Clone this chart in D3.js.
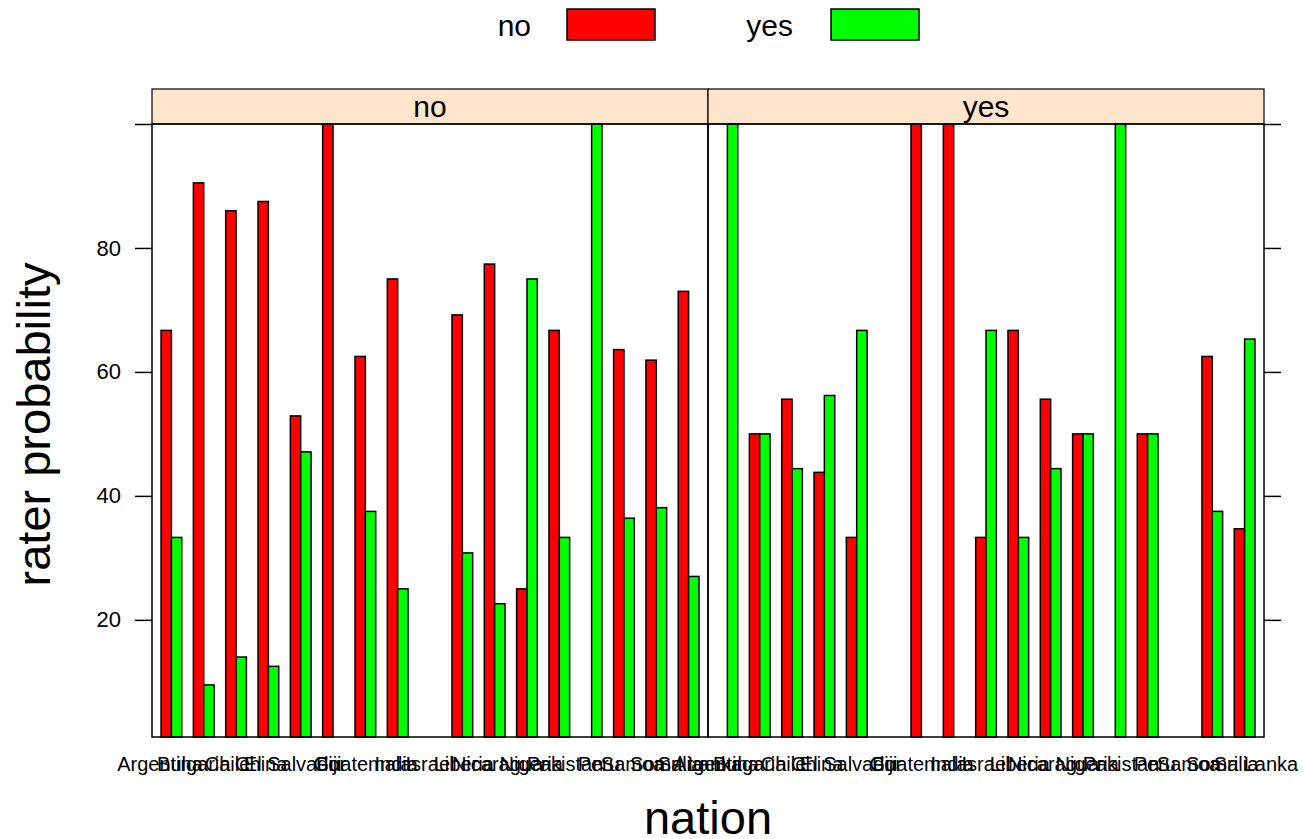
<!DOCTYPE html>
<html>
<head>
<meta charset="utf-8">
<script src="https://cdn.jsdelivr.net/npm/d3@7"></script>
<style>
  body { margin: 0; background: #fff; }
  svg { font-family: "Liberation Sans", Arial, Helvetica, sans-serif; }
</style>
</head>
<body>
<svg id="chart" width="1303" height="839"></svg>
<script>
// categories
const nations = ['Argentina', 'Bulgaria', 'Chile', 'China', 'El Salvador', 'Fiji', 'Guatemala', 'India',
    'Israel', 'Liberia', 'Nicaragua', 'Nigeria', 'Pakistan', 'Peru', 'Samoa', 'Somalia', 'Sri Lanka'];
const panelNames = ['no', 'yes'];
const raterGroups = ['no', 'yes'];

// rater probability (%) per nation, panel "no"
const panelNoRaterNo  = [66.7, 90.5, 86.0, 87.5, 52.9, 100, 62.5, 75.0, null, 69.2, 77.4, 25.0, 66.7, 0, 63.6, 61.9, 73.0];
const panelNoRaterYes = [33.3, 9.5, 14.0, 12.5, 47.1, 0, 37.5, 25.0, null, 30.8, 22.6, 75.0, 33.3, 100, 36.4, 38.1, 27.0];
// panel "yes"
const panelYesRaterNo  = [0, 50.0, 55.6, 43.8, 33.3, null, 100, 100, 33.3, 66.7, 55.6, 50.0, 0, 50.0, null, 62.5, 34.7];
const panelYesRaterYes = [100, 50.0, 44.4, 56.2, 66.7, null, 0, 0, 66.7, 33.3, 44.4, 50.0, 100, 50.0, null, 37.5, 65.3];

const yTicks = [20, 40, 60, 80, 100];
const yLimits = [1.1, 100];
const colors = ['#ff0000', '#00ff00'];

const panelData = [
    [panelNoRaterNo, panelNoRaterYes],
    [panelYesRaterNo, panelYesRaterYes],
];

const svg = d3.select('#chart');
const margin = { left: 152, top: 124 };
const panelW = 556;
const panelH = 613;
const stripH = 35;

const x = d3.scaleLinear().domain([-0.6, nations.length - 0.4]).range([0, panelW]);
const step = x(1) - x(0);
const barW = step * 0.32;
const xLab = d3.scalePoint().domain(nations).range([8, panelW - 8]);
const y = d3.scaleLinear().domain(yLimits).range([panelH, 0]);

// legend
const legend = svg.append('g').attr('class', 'legend');
const legendItems = [{ tx: 531, rx: 567 }, { tx: 793, rx: 831 }];
legendItems.forEach((d, i) => {
    legend.append('text')
        .attr('x', d.tx).attr('y', 36)
        .attr('text-anchor', 'end')
        .attr('font-size', 30)
        .text(raterGroups[i]);
    legend.append('rect')
        .attr('x', d.rx).attr('y', 9)
        .attr('width', 88).attr('height', 31)
        .attr('fill', colors[i])
        .attr('stroke', '#000').attr('stroke-width', 1.5);
});

panelNames.forEach((name, p) => {
    const g = svg.append('g')
        .attr('class', 'panel')
        .attr('transform', `translate(${margin.left + p * panelW}, ${margin.top})`);

    // strip
    g.append('rect')
        .attr('x', 0).attr('y', -stripH)
        .attr('width', panelW).attr('height', stripH)
        .attr('fill', '#ffe5cc')
        .attr('stroke', '#000').attr('stroke-width', 1.2);
    g.append('text')
        .attr('x', panelW / 2).attr('y', -7)
        .attr('text-anchor', 'middle')
        .attr('font-size', 30)
        .text(name);

    // bars
    const bars = [];
    nations.forEach((n, i) => {
        panelData[p].forEach((series, s) => {
            const v = series[i];
            if (v == null || v <= yLimits[0]) return;
            bars.push({ i, s, v });
        });
    });
    g.append('g').selectAll('rect')
        .data(bars)
        .enter()
        .append('rect')
        .attr('x', (d) => x(d.i) - barW + d.s * barW)
        .attr('width', barW)
        .attr('y', (d) => y(d.v))
        .attr('height', (d) => panelH - y(d.v))
        .attr('fill', (d) => colors[d.s])
        .attr('stroke', '#000')
        .attr('stroke-width', 1.5);

    // border
    g.append('rect')
        .attr('width', panelW).attr('height', panelH)
        .attr('fill', 'none')
        .attr('stroke', '#000').attr('stroke-width', 1.5);

    // x labels
    g.append('g').selectAll('text')
        .data(nations)
        .enter()
        .append('text')
        .attr('x', (d) => xLab(d))
        .attr('y', panelH + 34)
        .attr('text-anchor', 'middle')
        .attr('font-size', 20)
        .text((d) => d);
});

// y axes
const yAxisL = d3.axisLeft(y).tickValues(yTicks).tickSize(17).tickPadding(14)
    .tickFormat((d) => (d === 100 ? '' : d));
const yAxisR = d3.axisRight(y).tickValues(yTicks).tickSize(17).tickFormat('');

const axL = svg.append('g')
    .attr('transform', `translate(${margin.left}, ${margin.top})`)
    .call(yAxisL);
const axR = svg.append('g')
    .attr('transform', `translate(${margin.left + 2 * panelW}, ${margin.top})`)
    .call(yAxisR);
[axL, axR].forEach((ax) => {
    ax.select('.domain').remove();
    ax.selectAll('line').attr('stroke-width', 1.5);
    ax.selectAll('text').attr('font-size', 22).attr('font-family', '"Liberation Sans", Arial, sans-serif');
});

// axis titles
svg.append('text')
    .attr('x', margin.left + panelW)
    .attr('y', 834)
    .attr('text-anchor', 'middle')
    .attr('font-size', 47)
    .text('nation');
svg.append('text')
    .attr('transform', `translate(50, ${margin.top + panelH / 2 - 6}) rotate(-90)`)
    .attr('text-anchor', 'middle')
    .attr('font-size', 47)
    .text('rater probability');
</script>
</body>
</html>
